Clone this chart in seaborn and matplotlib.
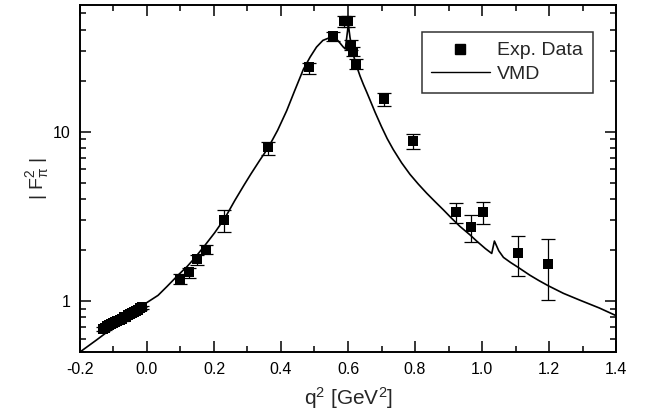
import numpy as np
import pandas as pd
import matplotlib
matplotlib.use("Agg")
import matplotlib.pyplot as plt
import matplotlib.ticker as ticker
from matplotlib.lines import Line2D
import seaborn as sns

# experimental points (q^2 in GeV^2, |F_pi|^2) with lower / upper error ends
exp_q2 = [-0.130, -0.124, -0.118, -0.112, -0.106, -0.100, -0.094, -0.088, -0.082, -0.076,
          -0.070, -0.064, -0.058, -0.052, -0.046, -0.040, -0.034, -0.028, -0.022, -0.016,
          0.0985, 0.126, 0.148, 0.175, 0.229, 0.360, 0.485, 0.556, 0.587, 0.600,
          0.609, 0.616, 0.624, 0.708, 0.795, 0.922, 0.966, 1.002, 1.107, 1.198]
exp_f2 = [0.687, 0.695, 0.710, 0.717, 0.731, 0.738, 0.754, 0.761, 0.777, 0.785,
          0.801, 0.809, 0.826, 0.835, 0.852, 0.863, 0.879, 0.889, 0.906, 0.918,
          1.34, 1.48, 1.76, 2.01, 3.03, 8.09, 24.0, 36.8, 45.2, 45.2,
          32.6, 29.7, 25.2, 15.6, 8.81, 3.34, 2.74, 3.36, 1.92, 1.66]
exp_lo = [0.667, 0.676, 0.690, 0.699, 0.712, 0.720, 0.735, 0.743, 0.758, 0.767,
          0.783, 0.791, 0.808, 0.817, 0.834, 0.846, 0.862, 0.872, 0.889, 0.901,
          1.26, 1.37, 1.64, 1.89, 2.56, 7.28, 21.9, 34.5, 41.8, 41.8,
          30.5, 28.0, 23.3, 14.2, 7.90, 2.87, 2.22, 2.84, 1.41, 1.01]
exp_hi = [0.707, 0.714, 0.730, 0.735, 0.750, 0.756, 0.773, 0.779, 0.796, 0.803,
          0.819, 0.827, 0.844, 0.853, 0.870, 0.880, 0.896, 0.906, 0.923, 0.935,
          1.44, 1.56, 1.86, 2.14, 3.47, 8.73, 25.6, 39.0, 48.4, 48.4,
          34.8, 31.5, 26.8, 17.0, 9.65, 3.80, 3.24, 3.85, 2.42, 2.32]

# VMD curve
vmd_q2 = [-0.200, -0.150, -0.100, -0.050, 0.000, 0.033, 0.060, 0.0925, 0.120, 0.142,
          0.172, 0.202, 0.233, 0.262, 0.290, 0.310, 0.336, 0.362, 0.390, 0.417,
          0.440, 0.467, 0.487, 0.506, 0.525, 0.545, 0.566, 0.576, 0.586, 0.592,
          0.601, 0.606, 0.611, 0.618, 0.626, 0.636, 0.646, 0.656, 0.668, 0.681,
          0.700, 0.717, 0.735, 0.760, 0.785, 0.810, 0.835, 0.860, 0.885, 0.910,
          0.934, 0.964, 0.984, 1.010, 1.029, 1.037, 1.050, 1.064, 1.085, 1.108,
          1.143, 1.170, 1.198, 1.243, 1.293, 1.350, 1.400]
vmd_f2 = [0.50, 0.59, 0.70, 0.835, 0.98, 1.08, 1.22, 1.42, 1.60, 1.79,
          2.12, 2.53, 3.10, 3.92, 4.85, 5.62, 6.75, 8.05, 10.2, 13.3,
          17.3, 23.4, 27.6, 31.6, 34.6, 35.9, 35.2, 33.4, 31.6, 30.8,
          43.0, 36.0, 31.8, 27.5, 24.3, 21.3, 19.0, 17.1, 15.0, 13.0,
          10.7, 9.1, 7.85, 6.55, 5.60, 4.90, 4.33, 3.86, 3.45, 3.07,
          2.76, 2.46, 2.26, 2.04, 1.91, 2.26, 1.98, 1.81, 1.69, 1.58,
          1.42, 1.32, 1.23, 1.11, 1.01, 0.91, 0.82]

exp_df = pd.DataFrame({"q2": exp_q2, "F2": exp_f2})
vmd_df = pd.DataFrame({"q2": vmd_q2, "F2": vmd_f2})

sns.set_style("ticks")
plt.rcParams["font.family"] = ["Liberation Sans", "DejaVu Sans"]
plt.rcParams["mathtext.default"] = "regular"

fig = plt.figure(figsize=(6.46, 4.13), dpi=100)
ax = fig.add_axes([0.1238, 0.1477, 0.8298, 0.8402])

sns.lineplot(data=vmd_df, x="q2", y="F2", ax=ax, color="black", linewidth=1.2,
             sort=False, estimator=None)
f2 = np.array(exp_f2)
yerr = [f2 - np.array(exp_lo), np.array(exp_hi) - f2]
ax.errorbar(exp_q2, exp_f2, yerr=yerr, fmt="none", ecolor="black",
            elinewidth=0.9, capsize=5, capthick=0.9)
sns.scatterplot(data=exp_df, x="q2", y="F2", ax=ax, marker="s", s=55,
                color="black", edgecolor="black", linewidth=0, zorder=3)

ax.set_yscale("log")
ax.set_xlim(-0.2, 1.4)
ax.set_ylim(0.5, 56)
ax.xaxis.set_major_locator(ticker.MultipleLocator(0.2))
ax.xaxis.set_minor_locator(ticker.MultipleLocator(0.1))
ax.xaxis.set_major_formatter(ticker.FormatStrFormatter("%.1f"))
ax.yaxis.set_major_locator(ticker.FixedLocator([1, 10]))
ax.yaxis.set_major_formatter(ticker.FixedFormatter(["1", "10"]))
ax.yaxis.set_minor_locator(ticker.LogLocator(base=10, subs=np.arange(2, 10)))
ax.yaxis.set_minor_formatter(ticker.NullFormatter())

ax.tick_params(which="both", direction="in", top=True, right=True,
               labelsize=11.5, width=1.1, colors="black", pad=7)
ax.tick_params(which="major", length=8)
ax.tick_params(which="minor", length=4.5)
for s in ax.spines.values():
    s.set_linewidth(1.4)
    s.set_color("black")

ax.set_xlabel("q$^2$ [GeV$^2$]", fontsize=15, labelpad=6)
ax.set_ylabel("| F$_\\pi^2$ |", fontsize=14, labelpad=1)

handles = [Line2D([], [], marker="s", color="black", linestyle="none", markersize=7),
           Line2D([], [], color="black", linewidth=1.0)]
leg = ax.legend(handles, ["Exp. Data", "VMD"], loc="upper right",
                bbox_to_anchor=(0.957, 0.922), borderaxespad=0, fontsize=14,
                frameon=True, fancybox=False, edgecolor="black", handlelength=3.0,
                borderpad=0.5, labelspacing=0.3, handletextpad=0.4)
leg.get_frame().set_linewidth(1.1)

fig.savefig("out.png", dpi=100)
